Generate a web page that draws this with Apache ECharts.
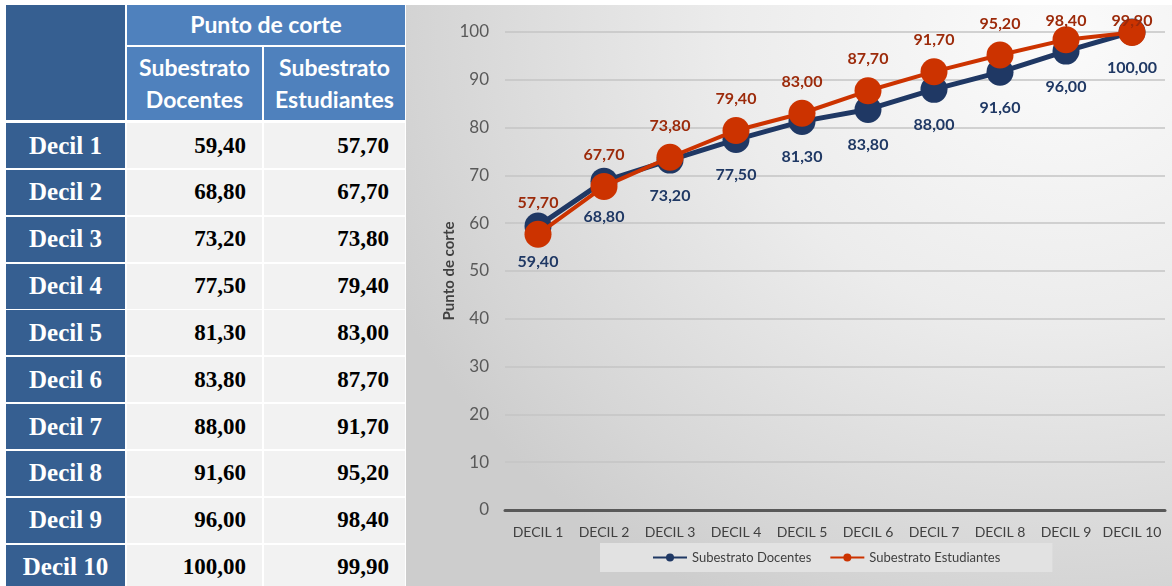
<!DOCTYPE html>
<html>
<head>
<meta charset="utf-8">
<script src="https://cdn.jsdelivr.net/npm/echarts@6/dist/echarts.min.js"></script>
<style>
  html, body { margin: 0; padding: 0; background: #ffffff; width: 1172px; height: 586px; overflow: hidden; }
  #tbl { position: absolute; left: 0; top: 0; width: 406px; height: 586px; }
  .cell { position: absolute; box-sizing: border-box; color: #fff; }
  .hdr { background: #4f81bd; font-family: Lato, "Liberation Sans", sans-serif; font-weight: bold; font-size: 23px; text-align: center; display: flex; align-items: center; justify-content: center; line-height: 1.38; }
  .rowlab { background: #365f91; font-family: "Liberation Serif", "DejaVu Serif", serif; font-weight: bold; font-size: 25px; display: flex; align-items: center; justify-content: center; }
  .num { background: #f2f2f2; color: #000; font-family: "Liberation Serif", "DejaVu Serif", serif; font-weight: bold; font-size: 23px; display: flex; align-items: center; justify-content: flex-end; padding-right: 16px; }
  #chartbox { position: absolute; left: 406px; top: 5px; width: 766px; height: 581px;
    background: radial-gradient(ellipse 95% 110% at 85% 5%, #fbfbfb 0%, #ececec 45%, #d6d6d6 85%, #cdcdcd 100%); }
  #chart { width: 766px; height: 581px; }
</style>
</head>
<body>
<div id="tbl"></div>
<div id="chartbox"><div id="chart"></div></div>
<script>
// ---- data ----
const rowLabels = ['Decil 1','Decil 2','Decil 3','Decil 4','Decil 5','Decil 6','Decil 7','Decil 8','Decil 9','Decil 10'];
const axisCategories = ['DECIL 1','DECIL 2','DECIL 3','DECIL 4','DECIL 5','DECIL 6','DECIL 7','DECIL 8','DECIL 9','DECIL 10'];
const docentes = [59.4, 68.8, 73.2, 77.5, 81.3, 83.8, 88.0, 91.6, 96.0, 100.0];
const estudiantes = [57.7, 67.7, 73.8, 79.4, 83.0, 87.7, 91.7, 95.2, 98.4, 99.9];
const headerTitle = 'Punto de corte';
const colHeaders = ['Subestrato<br>Docentes', 'Subestrato<br>Estudiantes'];
const seriesNames = ['Subestrato Docentes', 'Subestrato Estudiantes'];
const yAxisName = 'Punto de corte';

function fmt(v) { return v.toFixed(2).replace('.', ','); }

// ---- table ----
const tbl = document.getElementById('tbl');
function addCell(cls, x, y, w, h, html) {
  const d = document.createElement('div');
  d.className = 'cell ' + cls;
  d.style.left = x + 'px'; d.style.top = y + 'px';
  d.style.width = w + 'px'; d.style.height = h + 'px';
  d.innerHTML = html;
  tbl.appendChild(d);
}
addCell('rowlab', 6, 5, 119, 115, '');
addCell('hdr', 127, 5, 278, 40, headerTitle);
addCell('hdr', 127, 47, 135, 73, colHeaders[0]);
addCell('hdr', 264, 47, 141, 73, colHeaders[1]);
rowLabels.forEach((lab, i) => {
  const y = 123 + i * 46.85;
  addCell('rowlab', 6, y, 119, 45, lab);
  addCell('num', 127, y, 135, 45, fmt(docentes[i]));
  addCell('num', 264, y, 141, 45, fmt(estudiantes[i]));
});

// ---- chart ----
const chart = echarts.init(document.getElementById('chart'), null, { renderer: 'canvas' });
const navy = '#1f3864';
const orange = '#cc3300';
chart.setOption({
  backgroundColor: 'transparent',
  animation: false,
  textStyle: { fontFamily: 'Lato, "Liberation Sans", sans-serif' },
  grid: { left: 99, top: 27, width: 660, height: 478 },
  xAxis: {
    type: 'category',
    data: axisCategories,
    boundaryGap: true,
    axisLine: { show: true, lineStyle: { color: '#595959', width: 3 } },
    axisTick: { show: false },
    axisLabel: { color: '#404040', fontSize: 14, margin: 15, interval: 0 }
  },
  yAxis: {
    type: 'value',
    min: 0, max: 100, interval: 10,
    name: yAxisName,
    nameLocation: 'middle',
    nameGap: 48,
    nameMoveOverlap: false,
    nameTextStyle: { color: '#404040', fontSize: 15, fontWeight: 'bold' },
    axisLine: { show: false },
    axisTick: { show: false },
    axisLabel: { color: '#595959', fontSize: 17, margin: 16 },
    splitLine: { lineStyle: { color: '#c4c4c4', width: 1.5 } }
  },
  legend: {
    data: seriesNames,
    left: 194,
    top: 538,
    padding: [8, 52, 8, 52],
    backgroundColor: '#e2e2e2',
    itemGap: 18,
    itemWidth: 34,
    itemHeight: 10,
    textStyle: { color: '#404040', fontSize: 13 }
  },
  labelLayout: function (params) {
    const r = params.labelRect;
    if (r.y < 8) return { dy: 8 - r.y };
    return {};
  },
  series: [
    {
      name: seriesNames[0],
      type: 'line',
      data: docentes,
      symbol: 'circle',
      symbolSize: 27,
      lineStyle: { color: navy, width: 5 },
      itemStyle: { color: navy },
      label: {
        show: true, position: 'bottom', distance: 14,
        color: navy, fontSize: 16, fontWeight: 'bold',
        formatter: p => fmt(p.value)
      },
      z: 2
    },
    {
      name: seriesNames[1],
      type: 'line',
      data: estudiantes,
      symbol: 'circle',
      symbolSize: 27,
      lineStyle: { color: orange, width: 4 },
      itemStyle: { color: orange },
      label: {
        show: true, position: 'top', distance: 10,
        color: '#9c2a0a', fontSize: 16, fontWeight: 'bold',
        formatter: p => fmt(p.value)
      },
      z: 3
    }
  ]
});
</script>
</body>
</html>
